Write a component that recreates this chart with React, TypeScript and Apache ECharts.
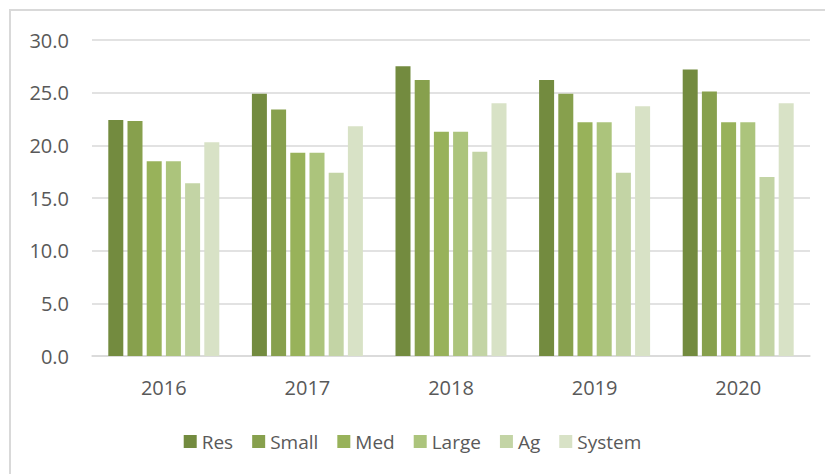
import React, { useEffect, useRef } from "react";
import * as echarts from "echarts";

const years = ["2016", "2017", "2018", "2019", "2020"];
const seriesNames = ["Res", "Small", "Med", "Large", "Ag", "System"];
const resValues = [22.4, 24.9, 27.5, 26.2, 27.2];
const smallValues = [22.3, 23.4, 26.2, 24.9, 25.1];
const medValues = [18.5, 19.3, 21.3, 22.2, 22.2];
const largeValues = [18.5, 19.3, 21.3, 22.2, 22.2];
const agValues = [16.4, 17.4, 19.4, 17.4, 17.0];
const systemValues = [20.3, 21.8, 24.0, 23.7, 24.0];
const colors = ["#738B3F", "#87A04D", "#98B25A", "#ACC47C", "#C3D4A5", "#D8E2C6"];

const allValues = [resValues, smallValues, medValues, largeValues, agValues, systemValues];

export default function App() {
  const ref = useRef<HTMLDivElement>(null);
  useEffect(() => {
    document.body.style.margin = "0";
    const chart = echarts.init(ref.current!, null, { renderer: "svg" });
    const font = "'Open Sans', sans-serif";
    chart.setOption({
      animation: false,
      textStyle: { fontFamily: font },
      graphic: [
        {
          type: "rect",
          shape: { x: 10, y: 10, width: 830, height: 480 },
          style: { fill: "none", stroke: "#d9d9d9", lineWidth: 2 },
          silent: true,
        },
      ],
      grid: { left: 92, right: 15, top: 40, bottom: 118 },
      legend: {
        data: seriesNames,
        left: "center",
        top: 427,
        itemWidth: 13,
        itemHeight: 13,
        itemGap: 19,
        icon: "rect",
        textStyle: { fontFamily: font, fontSize: 19, color: "#595959", padding: [0, 0, 0, 0] },
      },
      xAxis: {
        type: "category",
        data: years,
        axisLine: { lineStyle: { color: "#d9d9d9", width: 1.5 } },
        axisTick: { show: false },
        axisLabel: { fontFamily: font, fontSize: 20, color: "#595959", margin: 21 },
      },
      yAxis: {
        type: "value",
        min: 0,
        max: 30,
        interval: 5,
        axisLine: { show: false },
        axisTick: { show: false },
        splitLine: { lineStyle: { color: "#d9d9d9", width: 1.5 } },
        axisLabel: {
          fontFamily: font,
          fontSize: 20,
          color: "#595959",
          margin: 23,
          formatter: (v: number) => v.toFixed(1),
        },
      },
      series: seriesNames.map((name, i) => ({
        name,
        type: "bar",
        data: allValues[i],
        barWidth: 15,
        barGap: "28%",
        itemStyle: { color: colors[i] },
      })),
    });
    return () => chart.dispose();
  }, []);
  return (
    <div
      ref={ref}
      style={{ position: "fixed", left: 0, top: 0, width: 825, height: 474, background: "#fff" }}
    />
  );
}
